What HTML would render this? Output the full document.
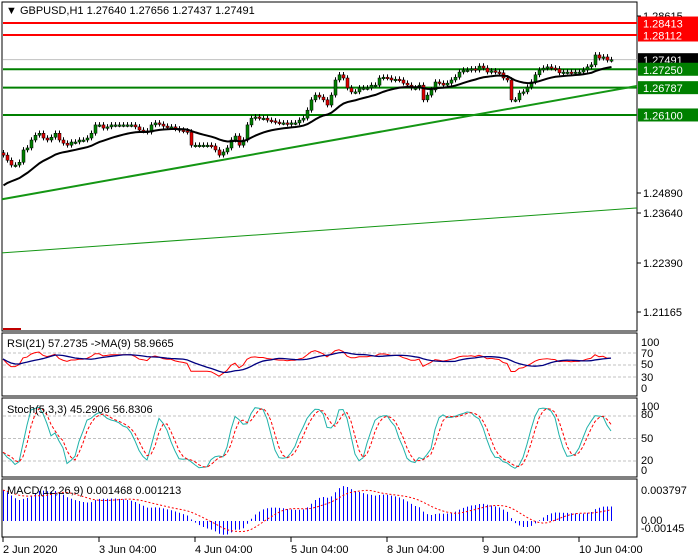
<!DOCTYPE html>
<html><head><meta charset="utf-8"><style>
html,body{margin:0;padding:0;background:#fff;}
svg{display:block;font-family:"Liberation Sans",sans-serif;font-size:11px;}
</style></head><body>
<svg id="chart" width="700" height="560" viewBox="0 0 700 560">
<rect x="0" y="0" width="700" height="560" fill="#fff"/>
<g id="main"></g>
<g id="rsi"></g>
<g id="stoch"></g>
<g id="macd"></g>
<g id="axes"></g>
</svg>
<script>
const closes = [1.2509,1.2496,1.2484,1.2484,1.2491,1.2522,1.2527,1.2547,1.2559,1.2564,1.2552,1.2547,1.2554,1.2564,1.2547,1.2539,1.2534,1.2542,1.2542,1.2547,1.2547,1.2552,1.2564,1.2585,1.2585,1.2577,1.2580,1.2585,1.2585,1.2585,1.2585,1.2585,1.2585,1.2580,1.2572,1.2570,1.2567,1.2585,1.2590,1.2587,1.2582,1.2580,1.2580,1.2575,1.2572,1.2570,1.2567,1.2534,1.2534,1.2534,1.2534,1.2534,1.2532,1.2522,1.2509,1.2517,1.2527,1.2547,1.2557,1.2534,1.2547,1.2585,1.2602,1.2605,1.2602,1.2602,1.2597,1.2595,1.2592,1.2590,1.2590,1.2587,1.2590,1.2590,1.2597,1.2602,1.2622,1.2648,1.2660,1.2655,1.2648,1.2635,1.2660,1.2698,1.2711,1.2703,1.2678,1.2668,1.2668,1.2678,1.2678,1.2678,1.2685,1.2685,1.2703,1.2705,1.2703,1.2698,1.2700,1.2698,1.2690,1.2685,1.2678,1.2678,1.2685,1.2648,1.2660,1.2673,1.2693,1.2690,1.2685,1.2690,1.2698,1.2705,1.2718,1.2723,1.2723,1.2726,1.2723,1.2733,1.2728,1.2718,1.2721,1.2718,1.2716,1.2703,1.2698,1.2648,1.2648,1.2665,1.2668,1.2680,1.2693,1.2711,1.2723,1.2728,1.2731,1.2728,1.2726,1.2716,1.2718,1.2718,1.2716,1.2718,1.2718,1.2723,1.2731,1.2736,1.2761,1.2753,1.2756,1.2748,1.2749];
const firstOpen = 1.2515;
const maSeed = 1.2425;
const redLevels = [1.28413, 1.28112];
const greenLevels = [1.27250, 1.26787, 1.26100];
const currentPrice = 1.27491;
const trend1 = [1.2398, 1.2683];
const trend2 = [1.2263, 1.2376];
const priceTicks = ["1.28615","1.24890","1.23640","1.22390","1.21165"];
const timeLabels = ["2 Jun 2020","3 Jun 04:00","4 Jun 04:00","5 Jun 04:00","8 Jun 04:00","9 Jun 04:00","10 Jun 04:00"];
const timeIdx = [0,24,48,72,96,120,144];

const NS="http://www.w3.org/2000/svg";
function mk(parent,tag,attrs,name,text){const e=document.createElementNS(NS,tag);for(const k in attrs)e.setAttribute(k,attrs[k]);


if(text!==undefined)e.textContent=text;parent.appendChild(e);return e;}
const xOf=i=>3+4*i;
const yP=p=>15+(1.28615-p)*3975;
const n=closes.length;
const opens=closes.map((c,i)=>i?closes[i-1]:firstOpen);
const highs=closes.map((c,i)=>Math.max(c,opens[i])+0.0007);
const lows=closes.map((c,i)=>Math.min(c,opens[i])-0.0006);

const main=document.getElementById('main');
mk(main,'rect',{x:2,y:2,width:635,height:329,fill:'none',stroke:'#000'},'price-frame');
mk(main,'text',{x:6,y:14,'font-size':'11'},'chart-title','▼ GBPUSD,H1  1.27640 1.27656 1.27437 1.27491');
mk(main,'line',{x1:3,x2:637,y1:yP(currentPrice),y2:yP(currentPrice),stroke:'#c0c0c0'},'current-price-line');
redLevels.forEach(p=>mk(main,'line',{x1:3,x2:637,y1:yP(p),y2:yP(p),stroke:'#ff0000','stroke-width':2},'resistance-line'));
greenLevels.forEach(p=>mk(main,'line',{x1:3,x2:637,y1:yP(p),y2:yP(p),stroke:'#008000','stroke-width':2},'support-line'));
mk(main,'line',{x1:2,x2:637,y1:yP(trend1[0]),y2:yP(trend1[1]),stroke:'#149614','stroke-width':2},'trendline-upper');
mk(main,'line',{x1:2,x2:637,y1:yP(trend2[0]),y2:yP(trend2[1]),stroke:'#149614','stroke-width':1},'trendline-lower');
mk(main,'rect',{x:3,y:328,width:18,height:2,fill:'#c00000'},'marker');
for(let i=0;i<n;i++){const x=xOf(i);
mk(main,'line',{x1:x+0.5,x2:x+0.5,y1:yP(highs[i]),y2:yP(lows[i]),stroke:'#000'},'candle-wick');
const up=closes[i]>=opens[i];const t=yP(Math.max(closes[i],opens[i])),b=yP(Math.min(closes[i],opens[i]));
mk(main,'rect',{x:x-1,y:t,width:3,height:Math.max(1.5,b-t),fill:up?'#008000':'#e00000',stroke:'#000','stroke-width':0.5},up?'candle-bull':'candle-bear');}
let ma=[],e=maSeed;const k=2/21;closes.forEach(c=>{e=e+k*(c-e);ma.push(e);});
mk(main,'polyline',{points:ma.map((v,i)=>xOf(i)+0.5+','+yP(v)).join(' '),fill:'none',stroke:'#000','stroke-width':2},'moving-average');

// RSI
const rsiG=document.getElementById('rsi');
const yR=v=>395-v*0.6;
mk(rsiG,'rect',{x:2,y:333,width:635,height:63,fill:'none',stroke:'#000'},'rsi-frame');
[70,50,30].forEach(v=>mk(rsiG,'line',{x1:3,x2:636,y1:yR(v),y2:yR(v),stroke:'#c0c0c0','stroke-dasharray':'3,2'},'rsi-level'));
let ag=0.0003,al=0.0002,rsi=[];
closes.forEach((c,i)=>{const d=i?c-closes[i-1]:0;ag=(ag*20+Math.max(d,0))/21;al=(al*20+Math.max(-d,0))/21;rsi.push(100-100/(1+ag/al));});
const rsiMa=rsi.map((v,i)=>{const s=rsi.slice(Math.max(0,i-8),i+1);return s.reduce((a,b)=>a+b,0)/s.length;});
mk(rsiG,'polyline',{points:rsi.map((v,i)=>xOf(i)+','+yR(v)).join(' '),fill:'none',stroke:'#ff0000'},'rsi-line');
mk(rsiG,'polyline',{points:rsiMa.map((v,i)=>xOf(i)+','+yR(v)).join(' '),fill:'none',stroke:'#000080','stroke-width':1.3},'rsi-ma-line');
mk(rsiG,'text',{x:7,y:347},'rsi-label','RSI(21) 57.2735  ->MA(9) 58.9665');

// Stoch
const stG=document.getElementById('stoch');
const yS=v=>476-v*0.75;
mk(stG,'rect',{x:2,y:398,width:635,height:79,fill:'none',stroke:'#000'},'stoch-frame');
[80,50,20].forEach(v=>mk(stG,'line',{x1:3,x2:636,y1:yS(v),y2:yS(v),stroke:'#c0c0c0','stroke-dasharray':'3,2'},'stoch-level'));
const raw=closes.map((c,i)=>{const hh=Math.max(...highs.slice(Math.max(0,i-4),i+1)),ll=Math.min(...lows.slice(Math.max(0,i-4),i+1));return (c-ll)/(hh-ll)*100;});
const sma3=a=>a.map((v,i)=>{const s=a.slice(Math.max(0,i-2),i+1);return s.reduce((x,y)=>x+y,0)/s.length;});
const kk=sma3(raw),dd=sma3(kk);
mk(stG,'polyline',{points:kk.map((v,i)=>xOf(i)+','+yS(v)).join(' '),fill:'none',stroke:'#20b2aa'},'stoch-k-line');
mk(stG,'polyline',{points:dd.map((v,i)=>xOf(i)+','+yS(v)).join(' '),fill:'none',stroke:'#ff0000','stroke-dasharray':'3,2'},'stoch-d-line');
mk(stG,'text',{x:7,y:413},'stoch-label','Stoch(5,3,3) 45.2906 56.8306');

// MACD
const mG=document.getElementById('macd');
const yM=v=>521-v*11000;
mk(mG,'rect',{x:2,y:479,width:635,height:58,fill:'none',stroke:'#000'},'macd-frame');
let e12=closes[0]-0.0016,e26=closes[0]-0.0045,macd=[];
closes.forEach(c=>{e12+=2/13*(c-e12);e26+=2/27*(c-e26);macd.push(e12-e26);});
const sig=macd.map((v,i)=>{const s=macd.slice(Math.max(0,i-8),i+1);return s.reduce((a,b)=>a+b,0)/s.length;});
macd.forEach((v,i)=>mk(mG,'line',{x1:xOf(i)+0.5,x2:xOf(i)+0.5,y1:yM(0),y2:Math.min(535,Math.max(481,yM(v))),stroke:'#0000ff'},'macd-bar'));
mk(mG,'polyline',{points:sig.map((v,i)=>xOf(i)+','+Math.max(481,yM(v))).join(' '),fill:'none',stroke:'#ff0000','stroke-dasharray':'2,2'},'macd-signal-line');
mk(mG,'text',{x:7,y:494},'macd-label','MACD(12,26,9) 0.001468 0.001213');

// Axes
const ax=document.getElementById('axes');
const pty=[15,192,212,262,311];
priceTicks.forEach((t,i)=>{mk(ax,'line',{x1:637,x2:641,y1:pty[i]+1,y2:pty[i]+1,stroke:'#000'},'price-tick');mk(ax,'text',{x:643,y:pty[i]+5},'price-tick-label',t);});
const boxes=[[1.28413,'#ff0000'],[1.28112,'#ff0000'],[1.27491,'#000'],[1.27250,'#008000'],[1.26787,'#008000'],[1.26100,'#008000']];
boxes.forEach(b=>{const y=yP(b[0]);mk(ax,'rect',{x:638,y:y-6.5,width:60,height:13,fill:b[1]},'price-tag');mk(ax,'text',{x:643,y:y+4.5,fill:'#fff'},'price-tag-label',b[0].toFixed(5));});
[["100",342],["70",353],["50",364],["30",377],["0",388],["100",406],["80",414],["50",438],["20",460],["0",470],["0.003797",490],["0.00",520],["-0.00145",528]].forEach(t=>mk(ax,'text',{x:641,y:t[1]+4},'indicator-axis-label',t[0]));
timeLabels.forEach((t,i)=>{const x=xOf(timeIdx[i]);mk(ax,'line',{x1:x,x2:x,y1:537,y2:542,stroke:'#000'},'time-tick');mk(ax,'text',{x:x,y:553},'time-label',t);});
</script>
</body></html>
